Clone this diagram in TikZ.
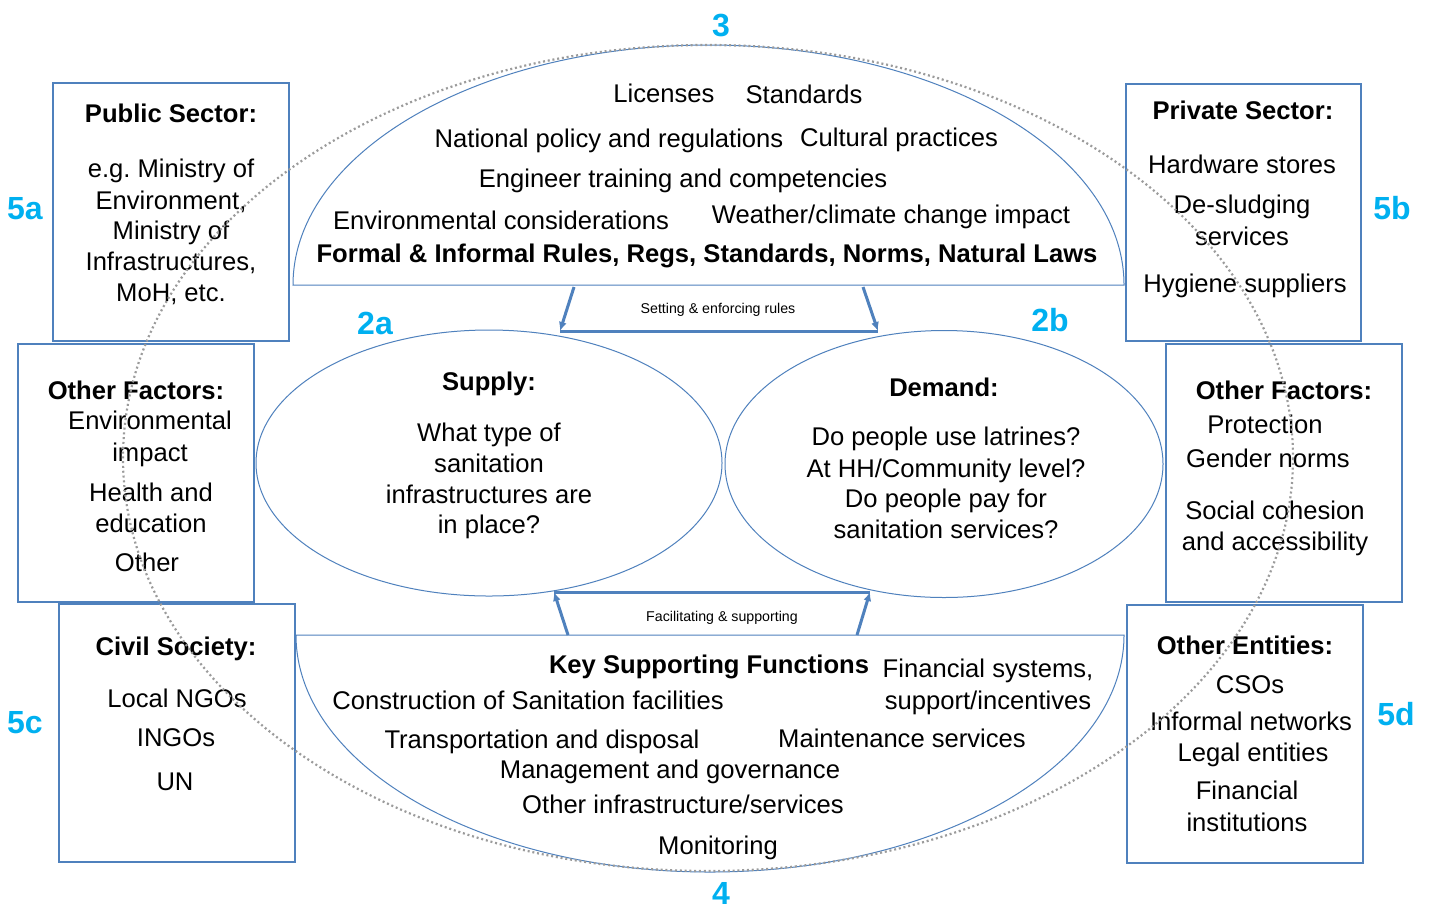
\documentclass[tikz,border=0pt]{standalone}
\usepackage{fontspec}
\setmainfont{Liberation Sans}
\usetikzlibrary{arrows.meta,shapes.geometric}
\frenchspacing
\definecolor{lineblue}{RGB}{79,129,189}
\definecolor{numcyan}{RGB}{0,176,240}
\definecolor{dotgray}{RGB}{155,155,155}
\tikzset{
  box/.style={draw=lineblue, line width=0.55pt, fill=white, rectangle, inner sep=0pt},
  oval/.style={draw=lineblue, line width=0.5pt, fill=white, ellipse, inner sep=0pt},
  halfshape/.style={draw=lineblue, line width=0.5pt, fill=white},
  txt/.style={font=\fontsize{12.8}{15}\selectfont, inner sep=0pt, text height=0.72em, text depth=0pt, anchor=center, yshift=-1pt},
  ttl/.style={txt, font=\bfseries\fontsize{12.8}{15}\selectfont},
  smalltxt/.style={font=\fontsize{7.1}{8}\selectfont, inner sep=0pt, text height=0.72em, text depth=0pt},
  numlbl/.style={font=\bfseries\fontsize{16}{18}\selectfont, text=numcyan, inner sep=0pt, text height=0.72em, text depth=0pt, yshift=-2pt},
  thk/.style={draw=lineblue, line width=1.5pt},
  tip/.style={-{Latex[length=4.5pt,width=4pt]}},
  dotline/.style={draw=dotgray, line width=1.1pt, dash pattern=on 1pt off 1.4pt}
}
\begin{document}
\begin{tikzpicture}[x=0.5pt,y=-0.5pt]
\useasboundingbox (0,0) rectangle (1433,911);
\fill[white] (0,0) rectangle (1433,911);

% side boxes
\node[box, minimum width=118pt, minimum height=129pt] (pub) at (171,212) {};
\node[box, minimum width=118pt, minimum height=129pt] (ofl) at (136,473) {};
\node[box, minimum width=118pt, minimum height=129pt] (civ) at (177,733) {};
\node[box, minimum width=117.5pt, minimum height=128.5pt] (pri) at (1243.5,212.5) {};
\node[box, minimum width=118pt, minimum height=129pt] (ofr) at (1284,473) {};
\node[box, minimum width=118pt, minimum height=129pt] (oen) at (1245,734) {};

% half ellipses
\path[halfshape] (293,285) arc[start angle=180, end angle=360, x radius=415.5, y radius=240] -- cycle;
\path[halfshape] (296,635) arc[start angle=180, end angle=0, x radius=414, y radius=237] -- cycle;

% supply / demand
\node[oval, minimum width=233pt, minimum height=133pt] (sup) at (489,463) {};
\node[oval, minimum width=219pt, minimum height=133.5pt] (dem) at (944,464) {};

% arrows top
\coordinate (s1a) at (574,287);
\coordinate (s1b) at (560,331);
\coordinate (s2a) at (863,287);
\coordinate (s2b) at (878,331);
\draw[thk] (s1b) -- (s2b);
\draw[thk,tip] (s1a) -- (s1b);
\draw[thk,tip] (s2a) -- (s2b);
\node[smalltxt] (setl) at (718,306) {Setting \& enforcing rules};

% arrows bottom
\coordinate (f1a) at (568,635);
\coordinate (f1b) at (554,592);
\coordinate (f2a) at (857,635);
\coordinate (f2b) at (870,592);
\draw[thk] (f1b) -- (f2b);
\draw[thk,tip] (f1a) -- (f1b);
\draw[thk,tip] (f2a) -- (f2b);
\node[smalltxt] (facl) at (722,614) {Facilitating \& supporting};

% top half text
\node[txt] (t1) at (664,93) {Licenses};
\node[txt] (t2) at (804,94) {Standards};
\node[txt] (t3) at (609,138) {National policy and regulations};
\node[txt] (t4) at (899,137) {Cultural practices};
\node[txt] (t5) at (683,178) {Engineer training and competencies};
\node[txt] (t6) at (501,220) {Environmental considerations};
\node[txt] (t7) at (891,214) {Weather/climate change impact};
\node[ttl] (t8) at (707,253) {Formal \& Informal Rules, Regs, Standards, Norms, Natural Laws};

% supply text
\node[ttl] (su0) at (489,381) {Supply:};
\node[txt] (su1) at (489,432) {What type of};
\node[txt] (su2) at (489,463) {sanitation};
\node[txt] (su3) at (489,494) {infrastructures are};
\node[txt] (su4) at (489,524) {in place?};

% demand text
\node[ttl] (de0) at (944,387) {Demand:};
\node[txt] (de1) at (946,436) {Do people use latrines?};
\node[txt] (de2) at (946,468) {At HH/Community level?};
\node[txt] (de3) at (946,498) {Do people pay for};
\node[txt] (de4) at (946,529) {sanitation services?};

% bottom half text
\node[ttl] (b0) at (709,664) {Key Supporting Functions};
\node[txt] (b1) at (988,668) {Financial systems,};
\node[txt] (b2) at (988,700) {support/incentives};
\node[txt] (b3) at (528,700) {Construction of Sanitation facilities};
\node[txt] (b4) at (542,739) {Transportation and disposal};
\node[txt] (b5) at (902,738) {Maintenance services};
\node[txt] (b6) at (670,769) {Management and governance};
\node[txt] (b7) at (683,804) {Other infrastructure/services};
\node[txt] (b8) at (718,845) {Monitoring};

% public sector
\node[ttl] (p0) at (171,113) {Public Sector:};
\node[txt] (p1) at (171,168) {e.g. Ministry of};
\node[txt] (p2) at (171,200) {Environment,};
\node[txt] (p3) at (171,230) {Ministry of};
\node[txt] (p4) at (171,261) {Infrastructures,};
\node[txt] (p5) at (171,292) {MoH, etc.};

% other factors left
\node[ttl] (l0) at (136,390) {Other Factors:};
\node[txt] (l1) at (150,420) {Environmental};
\node[txt] (l2) at (150,452) {impact};
\node[txt] (l3) at (151,492) {Health and};
\node[txt] (l4) at (151,523) {education};
\node[txt] (l5) at (147,562) {Other};

% civil society
\node[ttl] (c0) at (176,646) {Civil Society:};
\node[txt] (c1) at (177,698) {Local NGOs};
\node[txt] (c2) at (176,737) {INGOs};
\node[txt] (c3) at (175,781) {UN};

% private sector
\node[ttl] (r0) at (1243,110) {Private Sector:};
\node[txt] (r1) at (1242,164) {Hardware stores};
\node[txt] (r2) at (1242,204) {De-sludging};
\node[txt] (r3) at (1242,236) {services};
\node[txt] (r4) at (1245,283) {Hygiene suppliers};

% other factors right
\node[ttl] (q0) at (1284,390) {Other Factors:};
\node[txt] (q1) at (1265,424) {Protection};
\node[txt] (q2) at (1268,458) {Gender norms};
\node[txt] (q3) at (1275,510) {Social cohesion};
\node[txt] (q4) at (1275,541) {and accessibility};

% other entities
\node[ttl] (e0) at (1245,645) {Other Entities:};
\node[txt] (e1) at (1250,684) {CSOs};
\node[txt] (e2) at (1251,721) {Informal networks};
\node[txt] (e3) at (1253,752) {Legal entities};
\node[txt] (e4) at (1247,790) {Financial};
\node[txt] (e5) at (1247,822) {institutions};

% numbers
\node[numlbl] (n3) at (721,25) {3};
\node[numlbl] (n4) at (721,893) {4};
\node[numlbl] (n5a) at (25,208) {5a};
\node[numlbl] (n5b) at (1392,208) {5b};
\node[numlbl] (n5c) at (25,722) {5c};
\node[numlbl] (n5d) at (1396,714) {5d};
\node[numlbl] (n2a) at (375,323) {2a};
\node[numlbl] (n2b) at (1050,320) {2b};

% dotted big ellipse
\draw[dotline] (708,458) ellipse[x radius=585, y radius=413];
\end{tikzpicture}
\end{document}
